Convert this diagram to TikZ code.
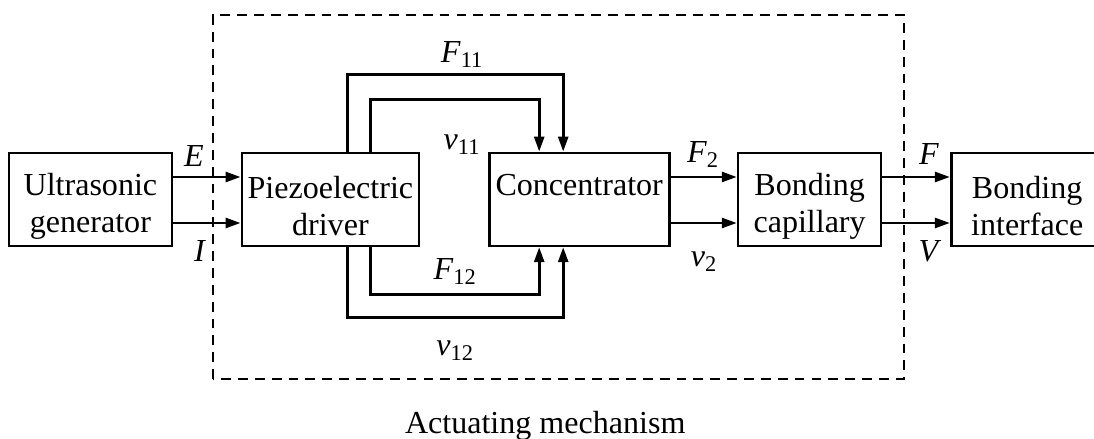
\documentclass[tikz,border=0pt]{standalone}
\usepackage{fontspec}
\setmainfont{Liberation Serif}
\usepackage{tikz}
\usetikzlibrary{arrows.meta,positioning}
\newcommand{\sig}[2]{\textit{#1}\textsubscript{#2}}
\newcommand{\topgap}{\rule{0pt}{0.88cm}}

\begin{document}
\begin{tikzpicture}[
  font=\fontsize{22.8}{26.3}\selectfont,
  block/.style={draw,line width=1.9pt,minimum height=2.325cm,align=center,inner sep=0pt},
  lbl/.style={anchor=base,inner sep=0pt},
  arrow/.style={-{Triangle[length=3.75mm,width=2.5mm]},line width=1.9pt},
  frame/.style={line width=1.7pt,dash pattern=on 7pt off 5pt}
]
\useasboundingbox (0,0) rectangle (27.35,10.975);
\node[block,minimum width=4.075cm] (gen) at (2.26,5.99) {\topgap Ultrasonic\\generator};
\node[block,minimum width=4.425cm] (piezo) at (8.26,5.99) {\topgap Piezoelectric\\driver};
\node[block,minimum width=4.5cm] (conc) at (14.48,5.99) {\topgap Concentrator\\\vphantom{g}};
\node[block,minimum width=3.575cm] (cap) at (20.24,5.99) {\topgap Bonding\\capillary};
\node[block,minimum width=3.8cm] (iface) at (25.68,5.99) {\topgap Bonding\\interface};
\draw[arrow] ([yshift=0.56cm]gen.east) -- ([yshift=0.56cm]piezo.west);
\draw[arrow] ([yshift=-0.59cm]gen.east) -- ([yshift=-0.59cm]piezo.west);
\draw[arrow] ([yshift=0.56cm]conc.east) -- ([yshift=0.56cm]cap.west);
\draw[arrow] ([yshift=-0.59cm]conc.east) -- ([yshift=-0.59cm]cap.west);
\draw[arrow] ([yshift=0.56cm]cap.east) -- ([yshift=0.56cm]iface.west);
\draw[arrow] ([yshift=-0.59cm]cap.east) -- ([yshift=-0.59cm]iface.west);
% feedback loops
\draw[arrow] ([xshift=0.43cm]piezo.north) -- ++(0,1.925) -| ([xshift=-0.4cm]conc.north);
\draw[arrow] ([xshift=1.01cm]piezo.north) -- ++(0,1.30) -| ([xshift=-1cm]conc.north);
\draw[arrow] ([xshift=1.01cm]piezo.south) -- ++(0,-1.175) -| ([xshift=-1cm]conc.south);
\draw[arrow] ([xshift=0.43cm]piezo.south) -- ++(0,-1.75) -| ([xshift=-0.4cm]conc.south);
\node[lbl] (lE) at (4.85,6.80) {\textit{E}};
\node[lbl] (lI) at (5.0,4.425) {\textit{I}};
\node[lbl] (lF11) at (11.55,9.40) {\sig{F}{11}};
\node[lbl] (lv11) at (11.55,7.225) {\sig{v}{11}};
\node[lbl] (lF12) at (11.375,3.975) {\sig{F}{12}};
\node[lbl] (lv12) at (11.375,2.075) {\sig{v}{12}};
\node[lbl] (lF2) at (17.575,6.90) {\sig{F}{2}};
\node[lbl] (lv2) at (17.6,4.30) {\sig{v}{2}};
\node[lbl] (lF) at (23.225,6.85) {\textit{F}};
\node[lbl] (lV) at (23.25,4.425) {\textit{V}};
\draw[frame] (5.33,1.5) rectangle (22.6,10.6);
\node[lbl] (mech) at (13.63,0.125) {Actuating mechanism};
\end{tikzpicture}
\end{document}
